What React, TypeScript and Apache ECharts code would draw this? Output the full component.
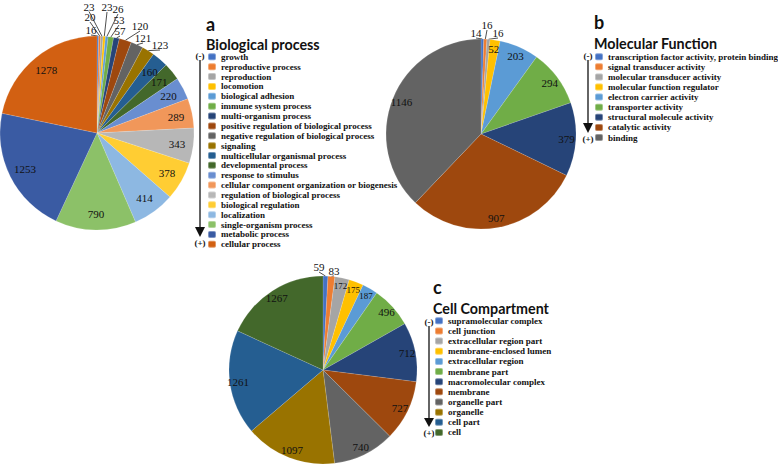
import React, { useEffect, useRef } from "react";
import * as echarts from "echarts";

// ---- Data ----
const bpNames = [
  "growth", "reproductive process", "reproduction", "locomotion", "biological adhesion",
  "immune system process", "multi-organism process", "positive regulation of biological process",
  "negative regulation of biological process", "signaling", "multicellular organismal process",
  "developmental process", "response to stimulus", "cellular component organization or biogenesis",
  "regulation of biological process", "biological regulation", "localization",
  "single-organism process", "metabolic process", "cellular process",
];
const bpValues = [16, 20, 23, 23, 26, 53, 57, 120, 121, 123, 160, 171, 220, 289, 343, 378, 414, 790, 1253, 1278];

const mfNames = [
  "transcription factor activity, protein binding", "signal transducer activity",
  "molecular transducer activity", "molecular function regulator", "electron carrier activity",
  "transporter activity", "structural molecule activity", "catalytic activity", "binding",
];
const mfValues = [14, 16, 16, 52, 203, 294, 379, 907, 1146];

const ccNames = [
  "supramolecular complex", "cell junction", "extracellular region part", "membrane-enclosed lumen",
  "extracellular region", "membrane part", "macromolecular complex", "membrane", "organelle part",
  "organelle", "cell part", "cell",
];
const ccValues = [59, 83, 172, 175, 187, 496, 712, 727, 740, 1097, 1261, 1267];

// ---- Styles ----
const excelPalette = [
  "#4472C4", "#ED7D31", "#A5A5A5", "#FFC000", "#5B9BD5", "#70AD47",
  "#264478", "#9E480E", "#636363", "#997300", "#255E91", "#43682B",
  "#698ED0", "#F1975A", "#B7B7B7", "#FFCD33", "#8DB8E2", "#8CC168",
  "#3A5BA3", "#D26012",
];

// offsets (from the pie centre) of the call-out labels of the thin slices
const bpCallouts: (number[] | null)[] = [
  [-6, -103], [-7, -116], [-8, -126.5], [10, -126], [21, -124], [22, -113], [23, -102],
  [43, -107], [46, -95], [63, -88],
];
const mfCallouts: (number[] | null)[] = [[-5, -101], [6, -109], [17, -101]];
const ccCallouts: (number[] | null)[] = [[-4, -103], [11, -99]];
// label font sizes where the reference shrinks them
const ccLabelSizes: (number | null)[] = [null, null, 9, 9, 9];

const labelFont = "'Liberation Serif', 'Times New Roman', serif";
const titleFont = "Lato, 'Noto Sans', sans-serif";

function pieSeries(
  names: string[], values: number[], center: number[], r: number,
  labelInner: number, callouts: (number[] | null)[], sizes: (number | null)[] = []
) {
  const total = values.reduce((a, b) => a + b, 0);
  const mids: number[] = [];
  let acc = 0;
  values.forEach((v) => {
    mids.push(((acc + v / 2) / total) * Math.PI * 2);
    acc += v;
  });
  const main = {
    type: "pie",
    center,
    radius: [0, r],
    startAngle: 90,
    clockwise: true,
    avoidLabelOverlap: false,
    label: { show: false },
    labelLine: { show: false },
    itemStyle: { borderColor: "rgba(255,255,255,0.35)", borderWidth: 0.4 },
    data: names.map((n, i) => ({ name: n, value: values[i], itemStyle: { color: excelPalette[i] } })),
  };
  const labels = {
    type: "pie",
    center,
    radius: [r * labelInner, r],
    startAngle: 90,
    clockwise: true,
    silent: true,
    legendHoverLink: false,
    avoidLabelOverlap: false,
    itemStyle: { color: "rgba(0,0,0,0)" },
    labelLine: { show: true, length: 5, length2: 2, lineStyle: { color: "#222", width: 0.8 } },
    label: { formatter: "{c}", fontFamily: labelFont, fontSize: 11, color: "#111" },
    labelLayout: (p: any) => {
      const s = callouts[p.dataIndex];
      if (!s) return {};
      const lx = center[0] + s[0];
      const ly = center[1] + s[1];
      const a = mids[p.dataIndex];
      const ex = center[0] + r * Math.sin(a);
      const ey = center[1] - r * Math.cos(a);
      const endY = ly + 5;
      return {
        x: lx,
        y: ly,
        align: "center",
        verticalAlign: "middle",
        labelLinePoints: [[ex, ey], [lx, endY], [lx, endY]],
      };
    },
    data: names.map((n, i) => {
      const outside = !!callouts[i];
      const label: any = { position: outside ? "outside" : "inside" };
      if (sizes[i]) label.fontSize = sizes[i];
      return {
        name: n,
        value: values[i],
        label,
        labelLine: { show: outside },
      };
    }),
  };
  return [main, labels];
}

function legend(names: string[], left: number, top: number, gap: number) {
  return {
    data: names,
    orient: "vertical",
    left,
    top,
    padding: 0,
    itemGap: gap,
    itemWidth: 8,
    itemHeight: 7,
    selectedMode: false,
    textStyle: { fontFamily: labelFont, fontWeight: "bold", fontSize: 9, color: "#111", lineHeight: 8.5 },
  };
}

function txt(text: string, x: number, y: number, font: string, align = "left") {
  return {
    type: "text",
    style: {
      text, x, y, font, fill: "#111",
      textAlign: align, align, textVerticalAlign: "middle", verticalAlign: "middle",
    },
  };
}

function arrow(x: number, yTop: number, yHead: number, yEnd: number) {
  const marks = "bold 9px " + labelFont;
  return [
    txt("(-)", x, yTop - 4, marks, "center"),
    { type: "line", shape: { x1: x, y1: yTop, x2: x, y2: yHead }, style: { stroke: "#111", lineWidth: 1.3 } },
    { type: "polygon", shape: { points: [[x - 5, yHead], [x + 5, yHead], [x, yEnd]] }, style: { fill: "#111" } },
    txt("(+)", x, yEnd + 6, marks, "center"),
  ];
}

export default function App() {
  const ref = useRef<HTMLDivElement>(null);
  useEffect(() => {
    if (!ref.current) return;
    const chart = echarts.init(ref.current, null, { renderer: "svg" });
    const bigTitle = "bold 14.3px " + titleFont;
    const letter = "bold 18px " + titleFont;
    chart.setOption({
      animation: false,
      backgroundColor: "#fff",
      legend: [
        legend(bpNames, 207, 52.3, 0.87),
        legend(mfNames, 594, 52.2, 1.1),
        legend(ccNames, 434, 316.3, 1.15),
      ],
      series: [
        ...pieSeries(bpNames, bpValues, [97, 133], 97, 0.6, bpCallouts),
        ...pieSeries(mfNames, mfValues, [481, 134], 95, 0.74, mfCallouts),
        ...pieSeries(ccNames, ccValues, [323, 370], 94, 0.76, ccCallouts, ccLabelSizes),
      ],
      graphic: [
        txt("a", 206, 24, letter),
        txt("Biological process", 206, 44.6, bigTitle),
        txt("b", 594, 22, letter),
        txt("Molecular Function", 594, 43.6, bigTitle),
        txt("c", 433, 287, letter),
        txt("Cell Compartment", 433, 308.8, bigTitle),
        ...arrow(200, 60, 227, 237),
        ...arrow(588, 60, 123, 133),
        ...arrow(429, 326, 418, 427),
      ],
    });
    return () => chart.dispose();
  }, []);
  return <div ref={ref} style={{ position: "absolute", left: 0, top: 0, width: 778, height: 466 }} />;
}
